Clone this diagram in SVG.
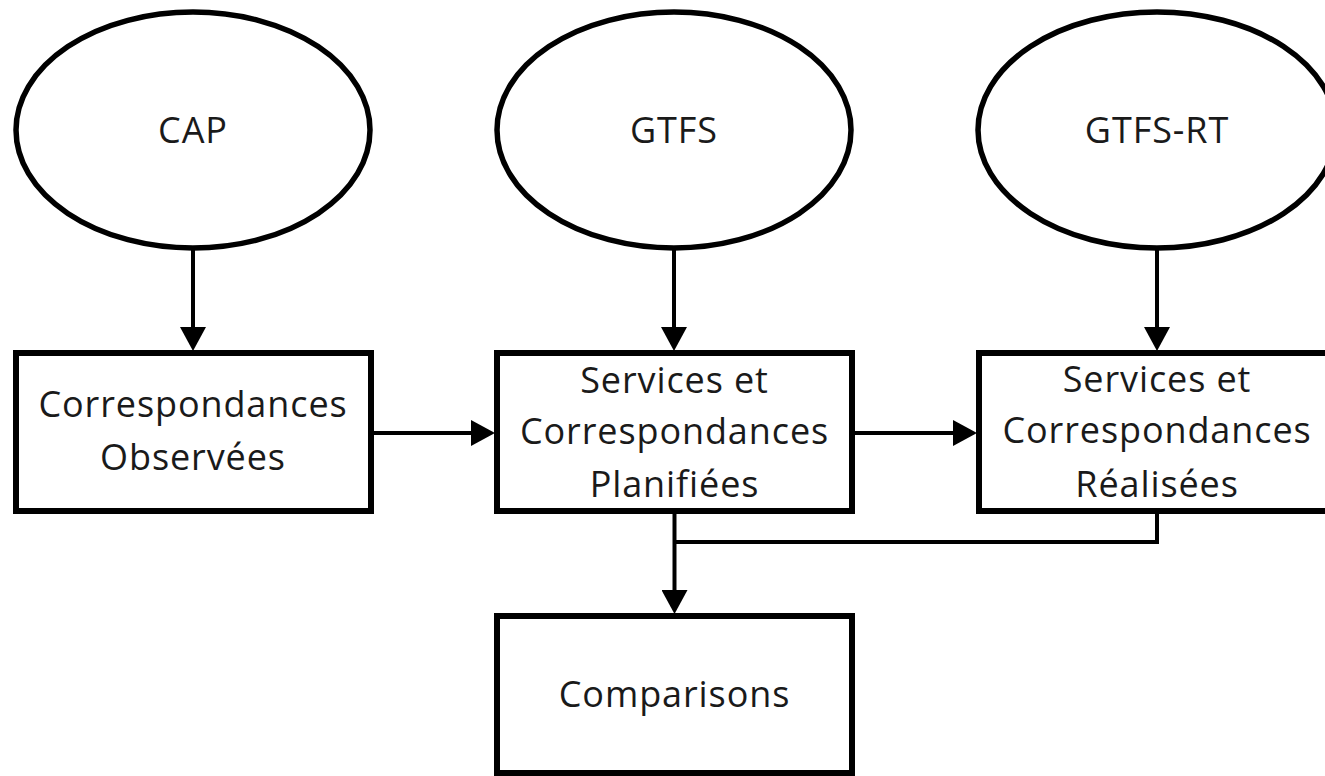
<svg xmlns="http://www.w3.org/2000/svg" width="1325" height="776" viewBox="0 0 1325 776">
<style>
.node{fill:#fff;stroke:#000;}
.ell{stroke-width:5.5;}
.box{stroke-width:6;}
.lbl{font-family:"Open Sans","Noto Sans","Liberation Sans",sans-serif;font-size:36px;letter-spacing:0.9px;fill:#1a1a1a;text-anchor:middle;}
.con{fill:none;stroke:#000;stroke-width:4;}
</style>
<defs>
<marker id="ah" markerUnits="userSpaceOnUse" markerWidth="24" markerHeight="26" viewBox="0 0 24 26" refX="0" refY="13" orient="auto">
<path d="M0,0 L24,13 L0,26 z" fill="#000"/>
</marker>
</defs>
<rect width="1325" height="776" fill="#fff"/>
<g id="connectors">
<path class="con" d="M193,248 V327" marker-end="url(#ah)"/>
<path class="con" d="M674,248 V327" marker-end="url(#ah)"/>
<path class="con" d="M1157,248 V327" marker-end="url(#ah)"/>
<path class="con" d="M373,433 H471" marker-end="url(#ah)"/>
<path class="con" d="M855,433 H953" marker-end="url(#ah)"/>
<path class="con" d="M674.5,514 V590" marker-end="url(#ah)"/>
<path class="con" d="M1157,514 V542 H674.5"/>
</g>
<g id="cap">
<ellipse class="node ell" cx="193" cy="130" rx="177" ry="118"/>
<text class="lbl" x="193" y="143">CAP</text>
</g>
<g id="gtfs">
<ellipse class="node ell" cx="674" cy="130" rx="177" ry="118"/>
<text class="lbl" x="674" y="143">GTFS</text>
</g>
<g id="gtfs-rt">
<ellipse class="node ell" cx="1157" cy="130" rx="179" ry="118"/>
<text class="lbl" x="1157" y="143">GTFS-RT</text>
</g>
<g id="observees">
<rect class="node box" x="16" y="353" width="355" height="158"/>
<text class="lbl" x="193" y="417">Correspondances</text>
<text class="lbl" x="193" y="470">Observées</text>
</g>
<g id="planifiees">
<rect class="node box" x="497" y="353" width="355" height="158"/>
<text class="lbl" x="674.5" y="393">Services et</text>
<text class="lbl" x="674.5" y="444">Correspondances</text>
<text class="lbl" x="674.5" y="497">Planifiées</text>
</g>
<g id="realisees">
<rect class="node box" x="979" y="353" width="355" height="158"/>
<text class="lbl" x="1157" y="392">Services et</text>
<text class="lbl" x="1157" y="443">Correspondances</text>
<text class="lbl" x="1157" y="497">Réalisées</text>
</g>
<g id="comparisons">
<rect class="node box" x="497" y="616" width="355" height="157"/>
<text class="lbl" x="674.5" y="707">Comparisons</text>
</g>
</svg>
